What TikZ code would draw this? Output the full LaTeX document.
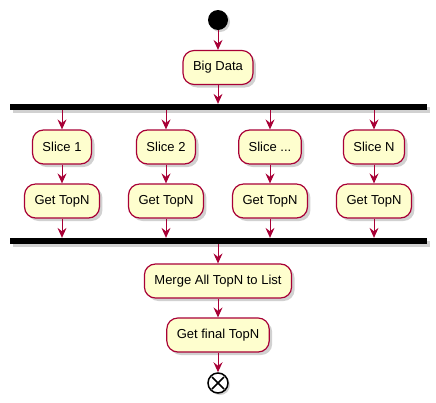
\documentclass[tikz,border=0pt]{standalone}
\usepackage{fontspec}
\setmainfont{Liberation Sans}
\usetikzlibrary{arrows.meta,shadows}
\definecolor{umlfill}{HTML}{FEFECE}
\definecolor{umlline}{HTML}{A80036}
\tikzset{
  act/.style={draw=umlline, fill=umlfill, line width=1.2pt, rounded corners=11pt,
    inner xsep=10pt, inner ysep=0pt, minimum height=34pt,
    font=\fontsize{13}{15}\selectfont,
    drop shadow={shadow xshift=3pt, shadow yshift=-3pt, opacity=0.3, fill=black!60}},
  forkbar/.style={fill=black, draw=none, minimum width=417pt, minimum height=5.5pt, inner sep=0pt,
    drop shadow={shadow xshift=3pt, shadow yshift=-3pt, opacity=0.3, fill=black!60}},
  flow/.style={draw=umlline, line width=1pt, -{Stealth[length=10pt,width=9pt,inset=3.5pt]}},
}
\begin{document}
\begin{tikzpicture}[x=1pt,y=-1pt]
\useasboundingbox (0,0) rectangle (436,402);
\node[circle, fill=black, minimum size=20pt, inner sep=0pt,
  drop shadow={shadow xshift=2pt, shadow yshift=-2pt, opacity=0.3, fill=black!60}] (start) at (218,20) {};
\node[act] (big) at (218,67.5) {Big Data};
\node[forkbar] (fork) at (218.5,106.8) {};
\node[act] (s1) at (62,147) {Slice 1};
\node[act] (s2) at (166,147) {Slice 2};
\node[act] (s3) at (270,147) {Slice ...};
\node[act] (s4) at (374,147) {Slice N};
\node[act] (g1) at (62,201) {Get TopN};
\node[act] (g2) at (166,201) {Get TopN};
\node[act] (g3) at (270,201) {Get TopN};
\node[act] (g4) at (374,201) {Get TopN};
\node[forkbar] (join) at (218.5,240.8) {};
\node[act] (merge) at (218,281) {Merge All TopN to List};
\node[act] (final) at (218,335) {Get final TopN};
\node[circle, draw=black, fill=white, line width=1.5pt, minimum size=20pt, inner sep=0pt,
  drop shadow={shadow xshift=2pt, shadow yshift=-2pt, opacity=0.3, fill=black!60},
  path picture={\draw[line width=1.5pt] (path picture bounding box.south west) ++(4pt,4pt) -- ++(12pt,12pt);
                \draw[line width=1.5pt] (path picture bounding box.north west) ++(4pt,-4pt) -- ++(12pt,-12pt);}] (end) at (218,383) {};
\draw[flow] (start) -- (big);
\draw[flow] (big) -- (big |- fork.north);
\foreach \s/\g in {s1/g1,s2/g2,s3/g3,s4/g4}{
  \draw[flow] (fork.south -| \s) -- (\s);
  \draw[flow] (\s) -- (\g);
  \draw[flow] (\g) -- (\g |- join.north);
}
\draw[flow] (join.south -| merge) -- (merge);
\draw[flow] (merge) -- (final);
\draw[flow] (final) -- (end);
\end{tikzpicture}
\end{document}
